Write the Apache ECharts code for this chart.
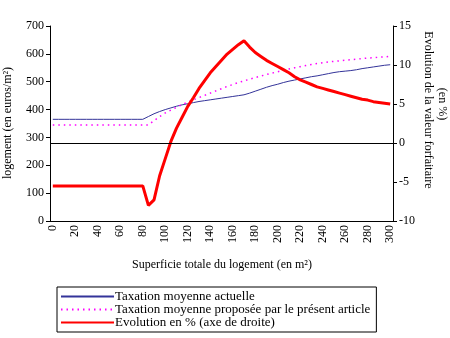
<!DOCTYPE html>
<html>
<head>
<meta charset="utf-8">
<script src="https://cdn.jsdelivr.net/npm/echarts@6/dist/echarts.min.js"></script>
<style>
  html, body { margin: 0; padding: 0; background: #fff; }
  #chart { width: 450px; height: 338px; }
</style>
</head>
<body>
<div id="chart"></div>
<script>
// Surface of the dwelling (m²), one category every 5 m²
const surfaces = [];
for (let s = 0; s <= 300; s += 5) surfaces.push(String(s));

// Average current taxation (euros/m²)
const taxActuelle = [
  365, 365, 365, 365, 365, 365, 365, 365, 365, 365, 365, 365, 365, 365, 365, 365, 365,
  375, 385, 393, 400, 406, 412, 417, 421, 425, 429, 432, 435, 438, 441, 444, 447, 450, 453,
  459, 466, 473, 480, 486, 491, 497, 502, 506, 510, 514, 518, 521, 525, 529, 533, 536,
  538, 540, 543, 547, 550, 553, 556, 559, 561
];

// Average proposed taxation (euros/m²)
const taxProposee = [
  345, 345, 345, 345, 345, 345, 345, 345, 345, 345, 345, 345, 345, 345, 345, 345, 345, 345,
  360, 375, 388, 398, 408, 418, 427, 435, 443, 451, 459, 467, 475, 483, 490, 497, 503,
  509, 515, 520, 526, 531, 536, 541, 546, 550, 554, 558, 562, 565, 568, 571, 573, 575,
  577, 579, 581, 583, 585, 586, 588, 589, 591
];

// Change of the flat-rate value (%), right axis
const evolution = [
  -5.5, -5.5, -5.5, -5.5, -5.5, -5.5, -5.5, -5.5, -5.5, -5.5, -5.5, -5.5, -5.5, -5.5, -5.5, -5.5, -5.5,
  -8.0, -7.3, -4.2, -2.0, 0.2, 1.9, 3.3, 4.7, 5.8, 7.0, 8.0, 9.0, 9.8, 10.6, 11.4, 12.0, 12.6, 13.1,
  12.3, 11.6, 11.1, 10.6, 10.2, 9.8, 9.4, 9.0, 8.5, 8.1, 7.8, 7.5, 7.2, 7.0, 6.8, 6.6, 6.4,
  6.2, 6.0, 5.8, 5.6, 5.5, 5.3, 5.2, 5.1, 5.0
];

const leftTicks = [0, 700, 100];   // min, max, interval
const rightTicks = [-10, 15, 5];

const FONT = '"Liberation Serif", "Times New Roman", serif';
const chart = echarts.init(document.getElementById('chart'), null, { renderer: 'canvas' });

chart.setOption({
  animation: false,
  backgroundColor: '#ffffff',
  textStyle: { fontFamily: FONT, color: '#000' },
  grid: { left: 50, right: 57, top: 26, bottom: 117, containLabel: false },
  xAxis: {
    type: 'category',
    data: surfaces,
    boundaryGap: true,
    axisLine: { lineStyle: { color: '#000', width: 1 } },
    axisTick: { interval: 0, length: 4, lineStyle: { color: '#000' } },
    axisLabel: {
      interval: 3, rotate: 90, margin: 4,
      fontFamily: FONT, fontSize: 12, color: '#000'
    },
    splitLine: { show: false }
  },
  yAxis: [
    {
      type: 'value',
      min: leftTicks[0], max: leftTicks[1], interval: leftTicks[2],
      axisLine: { show: true, lineStyle: { color: '#000' } },
      axisTick: { show: true, length: 4, lineStyle: { color: '#000' } },
      axisLabel: { fontFamily: FONT, fontSize: 12, color: '#000', margin: 6 },
      splitLine: { show: false }
    },
    {
      type: 'value',
      position: 'right',
      min: rightTicks[0], max: rightTicks[1], interval: rightTicks[2],
      axisLine: { show: true, lineStyle: { color: '#000' } },
      axisTick: { show: true, length: 4, lineStyle: { color: '#000' } },
      axisLabel: { fontFamily: FONT, fontSize: 12, color: '#000', margin: 6 },
      splitLine: { show: false }
    }
  ],
  legend: {
    orient: 'vertical',
    left: 57, top: 287,
    padding: [3, 6, 3, 3],
    itemGap: 0,
    itemWidth: 53,
    itemHeight: 10,
    borderColor: '#000',
    borderWidth: 1,
    itemStyle: { opacity: 0 },
    textStyle: { fontFamily: FONT, fontSize: 13, color: '#000', lineHeight: 12, padding: [0, 0, 0, -4] },
    data: [
      'Taxation moyenne actuelle',
      'Taxation moyenne proposée par le présent article',
      'Evolution en % (axe de droite)'
    ]
  },
  graphic: [
    {
      type: 'text', x: 8, y: 123, rotation: Math.PI / 2,
      style: { text: 'logement (en euros/m²)', font: '12px ' + FONT, fill: '#000', align: 'center', verticalAlign: 'middle' }
    },
    {
      type: 'text', x: 428, y: 110, rotation: -Math.PI / 2,
      style: { text: 'Evolution de la valeur forfaitaire', font: '12px ' + FONT, fill: '#000', align: 'center', verticalAlign: 'middle' }
    },
    {
      type: 'text', x: 442, y: 104, rotation: -Math.PI / 2,
      style: { text: '(en %)', font: '12px ' + FONT, fill: '#000', align: 'center', verticalAlign: 'middle' }
    },
    {
      type: 'text', x: 222, y: 265,
      style: { text: 'Superficie totale du logement (en m²)', font: '12px ' + FONT, fill: '#000', align: 'center', verticalAlign: 'middle' }
    }
  ],
  series: [
    {
      name: 'Taxation moyenne actuelle',
      type: 'line', yAxisIndex: 0, data: taxActuelle,
      symbol: 'none', smooth: false,
      lineStyle: { color: '#333399', width: 1 },
      itemStyle: { color: '#333399' },
      z: 3
    },
    {
      name: 'Taxation moyenne proposée par le présent article',
      type: 'line', yAxisIndex: 0, data: taxProposee,
      symbol: 'none',
      lineStyle: { color: '#ff00ff', width: 1.5, type: [1.5, 4] },
      itemStyle: { color: '#ff00ff' },
      z: 3
    },
    {
      name: 'Evolution en % (axe de droite)',
      type: 'line', yAxisIndex: 1, data: evolution,
      symbol: 'none',
      lineStyle: { color: '#ff0000', width: 3 },
      itemStyle: { color: '#ff0000' },
      z: 4,
      markLine: {
        silent: true, symbol: 'none', label: { show: false },
        lineStyle: { color: '#000', width: 1, type: 'solid' },
        data: [{ yAxis: 0 }]
      }
    }
  ]
});
</script>
</body>
</html>
